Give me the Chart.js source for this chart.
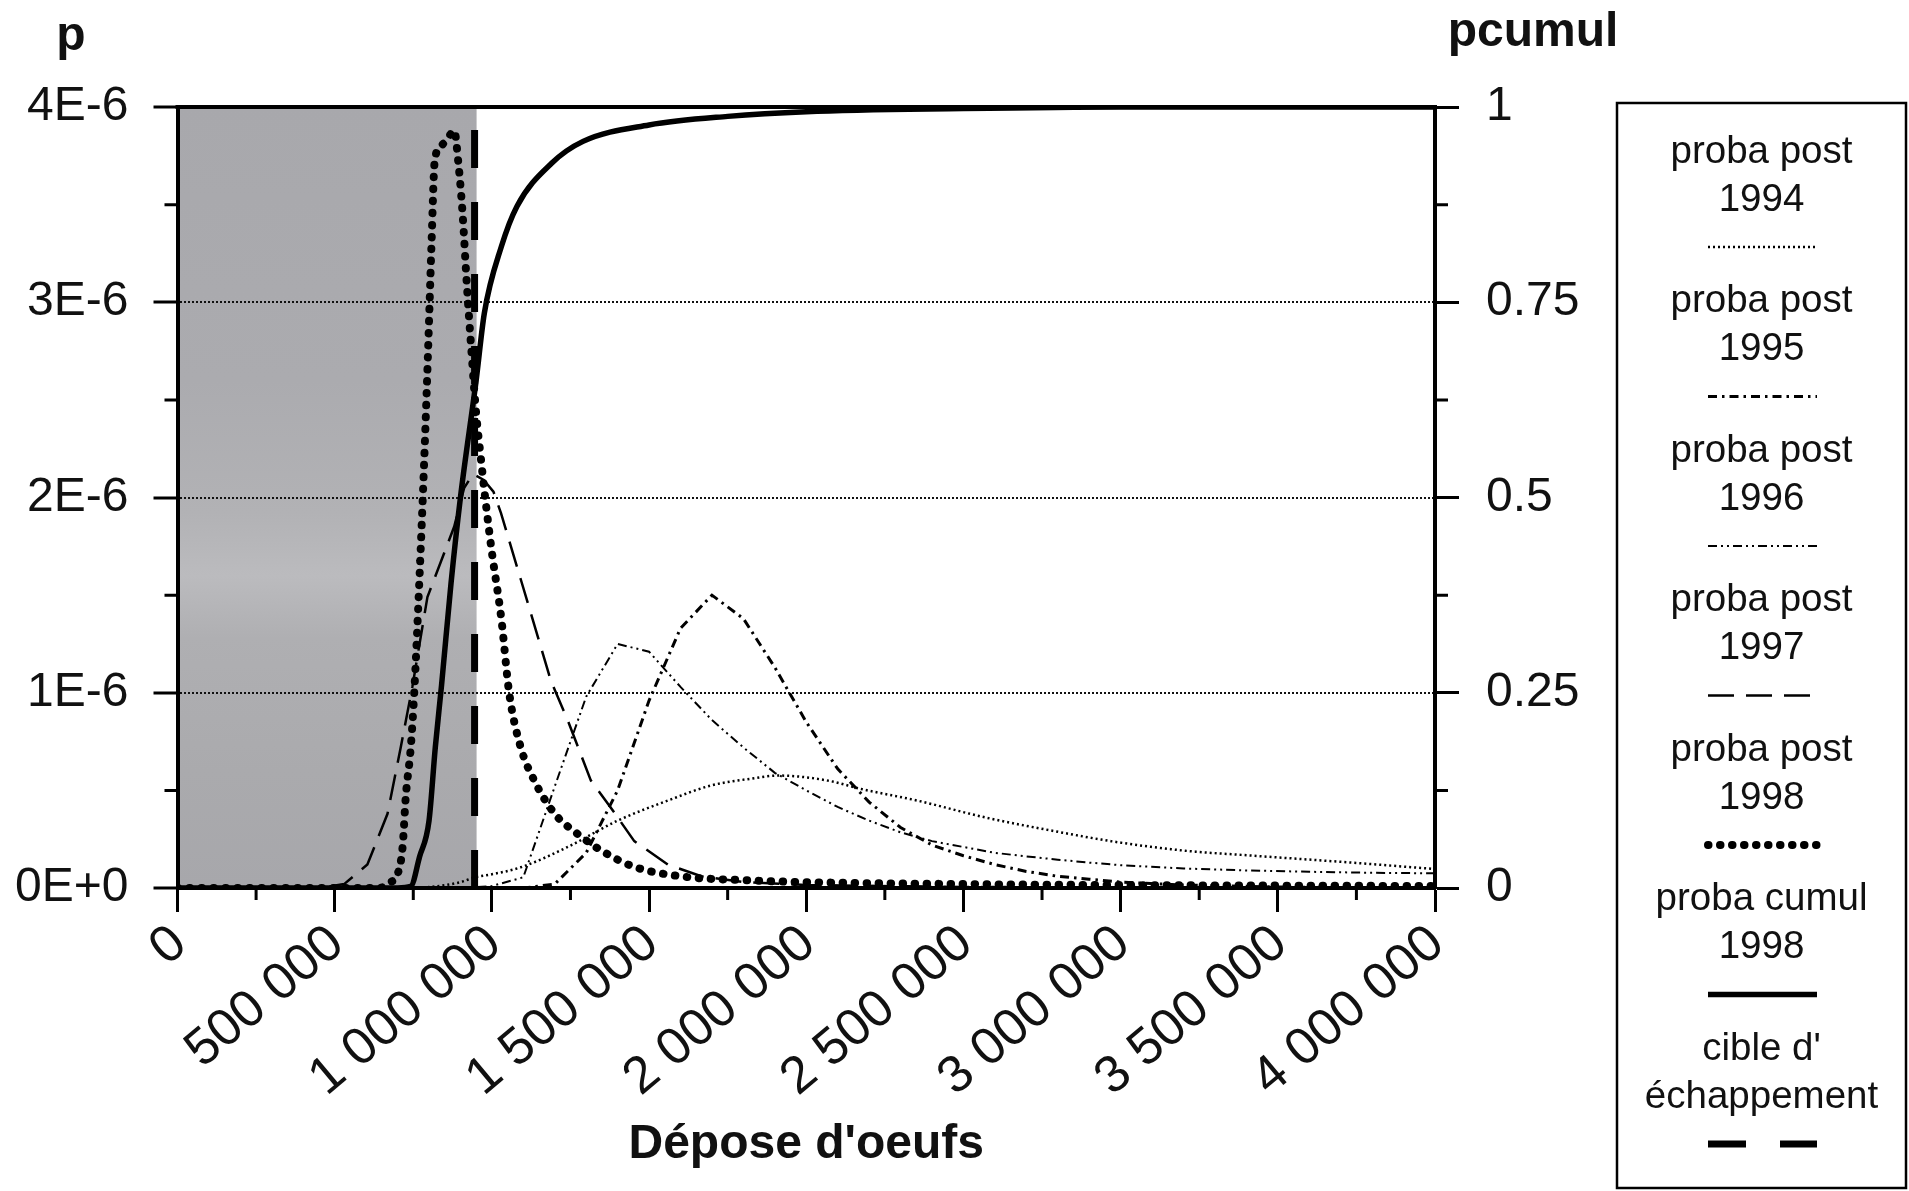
<!DOCTYPE html>
<html>
<head>
<meta charset="utf-8">
<title>Dépose d'oeufs</title>
<script src="https://cdn.jsdelivr.net/npm/chart.js@4.4.1/dist/chart.umd.min.js"></script>
<style>
  html, body { margin: 0; padding: 0; background: #fff; }
  #wrap { width: 1909px; height: 1191px; }
</style>
</head>
<body>
<div id="wrap"><canvas id="chart" width="1909" height="1191"></canvas></div>
<script>
// Egg deposition (x) and posterior probability p (left axis, in units of 1E-6)
const x1994 = [0, 700000, 800000, 900000, 944000, 1000000, 1092000, 1241000, 1400000, 1560000, 1697000, 1825000, 1910000, 2069000, 2175000, 2355000, 2568000, 2780000, 2993000, 3205000, 3417000, 3727000, 4000000];
const p1994 = [0, 0, 0.005, 0.03, 0.054, 0.07, 0.106, 0.21, 0.345, 0.448, 0.525, 0.56, 0.576, 0.55, 0.507, 0.447, 0.362, 0.294, 0.234, 0.191, 0.166, 0.131, 0.097];

const x1995 = [0, 1100000, 1200000, 1300000, 1400000, 1500000, 1600000, 1700000, 1800000, 1900000, 2000000, 2100000, 2200000, 2300000, 2400000, 2500000, 2600000, 2700000, 2800000, 2900000, 3000000, 3200000, 3500000, 4000000];
const p1995 = [0, 0, 0.02, 0.18, 0.5, 0.96, 1.33, 1.5, 1.38, 1.13, 0.85, 0.61, 0.44, 0.31, 0.22, 0.165, 0.12, 0.085, 0.06, 0.045, 0.03, 0.015, 0.005, 0];

const x1996 = [0, 900000, 1000000, 1100000, 1200000, 1300000, 1400000, 1500000, 1600000, 1700000, 1800000, 1900000, 2000000, 2100000, 2200000, 2300000, 2400000, 2500000, 2600000, 2700000, 2800000, 2900000, 3000000, 3200000, 3400000, 3600000, 3800000, 4000000];
const p1996 = [0, 0, 0.01, 0.055, 0.52, 0.98, 1.25, 1.21, 1.03, 0.86, 0.72, 0.59, 0.5, 0.415, 0.345, 0.285, 0.24, 0.21, 0.18, 0.162, 0.145, 0.13, 0.117, 0.1, 0.09, 0.083, 0.078, 0.075];

const x1997 = [0, 450000, 530000, 604000, 668000, 710000, 747000, 795000, 880000, 912000, 940000, 974000, 1005000, 1029000, 1092000, 1188000, 1241000, 1315000, 1379000, 1453000, 1560000, 1666000, 1800000, 2000000, 2500000, 4000000];
const p1997 = [0, 0, 0.02, 0.12, 0.38, 0.72, 1.03, 1.49, 1.85, 2.05, 2.12, 2.09, 2.03, 1.92, 1.58, 1.06, 0.86, 0.55, 0.41, 0.24, 0.12, 0.06, 0.03, 0.015, 0.005, 0];

const x1998 = [0, 640000, 678000, 700000, 716000, 726000, 742000, 753000, 770000, 785000, 797000, 808000, 818000, 838000, 860000, 880000, 893000, 907000, 920000, 935000, 950000, 965000, 980000, 1000000, 1030000, 1055000, 1090000, 1135000, 1200000, 1270000, 1350000, 1450000, 1600000, 1800000, 2000000, 2500000, 3000000, 4000000];
const p1998 = [0, 0, 0.03, 0.07, 0.21, 0.465, 0.72, 1.0, 1.6, 2.2, 2.75, 3.3, 3.72, 3.8, 3.84, 3.88, 3.72, 3.45, 3.1, 2.75, 2.43, 2.2, 1.98, 1.72, 1.38, 1.0, 0.73, 0.55, 0.38, 0.28, 0.19, 0.11, 0.06, 0.04, 0.03, 0.02, 0.015, 0.01];

// cumulative probability 1998 (right axis, 0..1)
const xCumul = [0, 700000, 742000, 770000, 800000, 820000, 840000, 870000, 900000, 950000, 976000, 1030000, 1080000, 1190000, 1290000, 1500000, 1750000, 2000000, 2500000, 3000000, 4000000];
const pCumul = [0, 0, 0.002, 0.04, 0.086, 0.18, 0.26, 0.39, 0.5, 0.65, 0.736, 0.821, 0.873, 0.928, 0.956, 0.977, 0.988, 0.994, 0.998, 1, 1];

// escape target
const cible = 945000;
const cibleTop = 3.9;

// tick labels
const xTickValues = [0, 500000, 1000000, 1500000, 2000000, 2500000, 3000000, 3500000, 4000000];
const xTickLabels = ['0', '500 000', '1 000 000', '1 500 000', '2 000 000', '2 500 000', '3 000 000', '3 500 000', '4 000 000'];
const yTickValues = [0, 1, 2, 3, 4];
const yTickLabels = ['0E+0', '1E-6', '2E-6', '3E-6', '4E-6'];
const y2TickValues = [0, 0.25, 0.5, 0.75, 1];
const y2TickLabels = ['0', '0.25', '0.5', '0.75', '1'];

const FONT = '"Liberation Sans", Arial, Helvetica, sans-serif';
Chart.defaults.font.family = FONT;
Chart.defaults.color = '#111';

function pts(xs, ys) {
  return xs.map((x, i) => ({ x: x, y: ys[i] }));
}

const datasets = [
  { label: 'proba post\n1994', data: pts(x1994, p1994), borderWidth: 2.5, borderDash: [2, 3], cubicInterpolationMode: 'monotone' },
  { label: 'proba post\n1995', data: pts(x1995, p1995), borderWidth: 3, borderDash: [9, 5, 2.5, 5] },
  { label: 'proba post\n1996', data: pts(x1996, p1996), borderWidth: 2, borderDash: [9, 4, 2, 4, 2, 4] },
  { label: 'proba post\n1997', data: pts(x1997, p1997), borderWidth: 2.5, borderDash: [26, 12] },
  { label: 'proba post\n1998', data: pts(x1998, p1998), borderWidth: 8, borderDash: [0.5, 11.5], borderCapStyle: 'round', cubicInterpolationMode: 'monotone' },
  { label: 'proba cumul\n1998', data: pts(xCumul, pCumul), borderWidth: 5.5, yAxisID: 'y2', cubicInterpolationMode: 'monotone' },
  { label: "cible d'\néchappement", data: [{ x: cible, y: 0 }, { x: cible, y: cibleTop }], borderWidth: 7, borderDash: [38, 34] }
].map(d => Object.assign({ borderColor: '#000', pointRadius: 0, fill: false, yAxisID: 'y' }, d));

function minorTick(list, value) {
  return list.indexOf(value) < 0;
}

// grey zone, frame, minor ticks, axis names, legend
const decor = {
  id: 'decor',
  beforeDraw(chart) {
    const { ctx, chartArea: a, scales: { x } } = chart;
    ctx.save();
    ctx.fillStyle = '#fff';
    ctx.fillRect(0, 0, chart.width, chart.height);
    const xe = x.getPixelForValue(cible);
    const g = ctx.createLinearGradient(0, a.top, 0, a.bottom);
    g.addColorStop(0, '#a8a8ac');
    g.addColorStop(0.35, '#ababaf');
    g.addColorStop(0.52, '#b2b2b5');
    g.addColorStop(0.6, '#bbbbbe');
    g.addColorStop(0.68, '#afafb2');
    g.addColorStop(0.85, '#aaaaad');
    g.addColorStop(1, '#a7a7ab');
    ctx.fillStyle = g;
    ctx.fillRect(a.left, a.top, xe - a.left + 2, a.bottom - a.top);
    ctx.restore();
  },
  afterDraw(chart) {
    const { ctx, chartArea: a, scales: { x, y, y2 } } = chart;
    ctx.save();
    ctx.strokeStyle = '#000';
    ctx.setLineDash([]);

    // top frame
    ctx.lineWidth = 4;
    ctx.beginPath();
    ctx.moveTo(a.left - 2, a.top);
    ctx.lineTo(a.right + 2, a.top);
    ctx.stroke();

    // minor ticks
    ctx.lineWidth = 3;
    ctx.beginPath();
    x.ticks.forEach(t => {
      if (!minorTick(xTickValues, t.value)) return;
      const px = x.getPixelForValue(t.value);
      ctx.moveTo(px, a.bottom); ctx.lineTo(px, a.bottom + 12);
    });
    y.ticks.forEach(t => {
      if (!minorTick(yTickValues, t.value)) return;
      const py = y.getPixelForValue(t.value);
      ctx.moveTo(a.left, py); ctx.lineTo(a.left - 13, py);
    });
    y2.ticks.forEach(t => {
      if (!minorTick(y2TickValues, t.value)) return;
      const py = y2.getPixelForValue(t.value);
      ctx.moveTo(a.right, py); ctx.lineTo(a.right + 13, py);
    });
    ctx.stroke();

    // axis names
    ctx.fillStyle = '#111';
    ctx.font = 'bold 48px ' + FONT;
    ctx.textAlign = 'center';
    ctx.textBaseline = 'alphabetic';
    ctx.fillText('p', 71, 50);
    ctx.fillText('pcumul', 1533, 46);

    // legend box
    const L = 1617, R = 1906, T = 103, B = 1188;
    ctx.lineWidth = 2.5;
    ctx.strokeRect(L, T, R - L, B - T);
    const cx = (L + R) / 2;
    ctx.font = '38.5px ' + FONT;
    ctx.textBaseline = 'middle';
    chart.data.datasets.forEach((ds, i) => {
      const y0 = 152 + i * 149.5;
      const lines = ds.label.split('\n');
      ctx.fillText(lines[0], cx, y0);
      ctx.fillText(lines[1], cx, y0 + 48);
      const ly = y0 + 95;
      ctx.save();
      ctx.lineWidth = ds.borderWidth;
      ctx.setLineDash(ds.borderDash || []);
      ctx.lineCap = ds.borderCapStyle || 'butt';
      ctx.beginPath();
      ctx.moveTo(1708, ly);
      ctx.lineTo(1817, ly);
      ctx.stroke();
      ctx.restore();
    });
    ctx.restore();
  }
};

new Chart(document.getElementById('chart'), {
  type: 'line',
  data: { datasets: datasets },
  plugins: [decor],
  options: {
    responsive: false,
    animation: false,
    devicePixelRatio: 1,
    layout: { padding: { top: 107, left: 0, right: 0, bottom: 0 } },
    plugins: { legend: { display: false }, tooltip: { enabled: false } },
    scales: {
      x: {
        type: 'linear',
        min: 0,
        max: 4000000,
        afterFit: s => { s.height = 303; },
        ticks: {
          stepSize: 250000,
          autoSkip: false,
          minRotation: 40,
          maxRotation: 40,
          padding: 1,
          labelOffset: 2.5,
          font: { size: 52 },
          color: '#111',
          callback: v => {
            const i = xTickValues.indexOf(v);
            return i < 0 ? '' : xTickLabels[i];
          }
        },
        grid: {
          drawOnChartArea: false,
          tickLength: 24,
          tickWidth: 3,
          tickColor: c => (c.tick && !minorTick(xTickValues, c.tick.value)) ? '#000' : 'rgba(0,0,0,0)'
        },
        border: { color: '#000', width: 4 },
        title: {
          display: true,
          text: "Dépose d'oeufs",
          font: { size: 48, weight: 'bold' },
          color: '#111',
          padding: { top: 0, bottom: 17 }
        }
      },
      y: {
        type: 'linear',
        position: 'left',
        min: 0,
        max: 4,
        afterFit: s => { s.width = 177.5; },
        ticks: {
          stepSize: 0.5,
          autoSkip: false,
          padding: 25,
          font: { size: 48 },
          color: '#111',
          callback: v => {
            const i = yTickValues.indexOf(v);
            return i < 0 ? '' : yTickLabels[i];
          }
        },
        grid: {
          tickLength: 24,
          tickWidth: 3,
          tickColor: c => (c.tick && !minorTick(yTickValues, c.tick.value)) ? '#000' : 'rgba(0,0,0,0)',
          color: '#111',
          lineWidth: c => (c.tick && c.tick.value > 0 && c.tick.value < 4 && !minorTick(yTickValues, c.tick.value)) ? 2 : 0
        },
        border: { color: '#000', width: 4, dash: [2, 2] }
      },
      y2: {
        type: 'linear',
        position: 'right',
        min: 0,
        max: 1,
        afterFit: s => { s.width = 1909 - 1435; },
        ticks: {
          stepSize: 0.125,
          autoSkip: false,
          padding: 27,
          font: { size: 48 },
          color: '#111',
          callback: v => {
            const i = y2TickValues.indexOf(v);
            return i < 0 ? '' : y2TickLabels[i];
          }
        },
        grid: {
          drawOnChartArea: false,
          tickLength: 24,
          tickWidth: 3,
          tickColor: c => (c.tick && !minorTick(y2TickValues, c.tick.value)) ? '#000' : 'rgba(0,0,0,0)'
        },
        border: { color: '#000', width: 4 }
      }
    }
  }
});
</script>
</body>
</html>
